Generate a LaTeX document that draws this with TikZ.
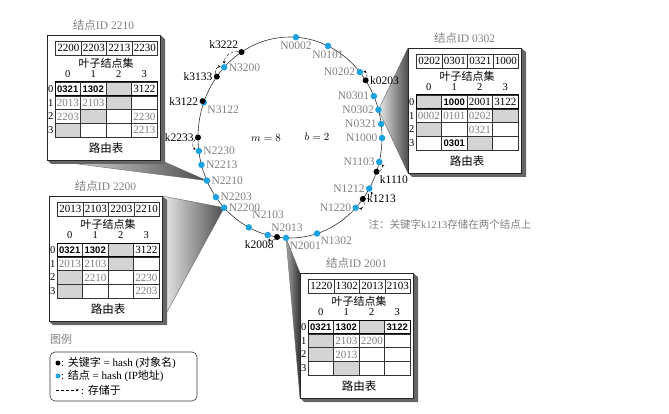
\documentclass[tikz,border=0pt]{standalone}
\usepackage{fontspec}
\setmainfont{Liberation Serif}
\newfontfamily\cjk{Noto Sans CJK SC}
\newfontfamily\numbold{Liberation Sans}
\usetikzlibrary{arrows.meta,backgrounds}

\definecolor{ringblue}{RGB}{28,163,222}
\definecolor{softgray}{gray}{0.5}
\definecolor{cellfill}{gray}{0.83}

\newcommand{\zh}[1]{{\cjk #1}}

\tikzset{
  keydot/.style={circle,fill=black,inner sep=0pt,minimum size=6pt},
  nodedot/.style={circle,fill=ringblue,inner sep=0pt,minimum size=6.5pt},
  nlbl/.style={text=softgray,font=\fontsize{11.5}{12}\selectfont,inner sep=1pt},
  klbl/.style={text=black,font=\fontsize{11.5}{12}\selectfont,inner sep=1pt},
  stored/.style={densely dashed,-{Stealth[length=3pt,width=2.5pt]},line width=0.4pt},
  tframe/.style={draw=black!85,fill=white,line width=0.7pt},
  tshadow/.style={fill=black!60},
  tcell/.style={draw=black!80,line width=0.5pt,minimum width=25.5pt,minimum height=13.75pt,
    inner sep=0pt,font=\fontsize{11}{11}\selectfont},
  tcb/.style={tcell,font=\numbold\bfseries\fontsize{9.5}{10}\selectfont},
  tcn/.style={tcell},
  tcg/.style={tcell,text=black!50},
  tcx/.style={tcell,fill=cellfill},
  tce/.style={tcell},
  wedge/.style={draw=black!60,line width=0.4pt,left color=black!8,right color=black!70},
}

\newcommand{\rtable}[4]{%
  \begin{scope}[shift={#1}]
    \fill[tshadow] (113,0) -- (118,4) -- (118,129) -- (4,129) -- (0,125) -- (113,125) -- cycle;
    \draw[tframe] (0,0) rectangle (113,125);
    \coordinate (t#2-nw) at (0,0);
    \coordinate (t#2-ne) at (113,0);
    \coordinate (t#2-sw) at (0,125);
    \coordinate (t#2-se) at (113,125);
    \node[text=softgray,font=\fontsize{11.5}{12}\selectfont] (t#2-title) at (56.5,-10) {\zh{结点}ID #2};
    \foreach \val [count=\li from 0] in {#3}
      \node[tcell,minimum height=14pt] (t#2-l\li) at ({21.25+25.5*\li},13) {\val};
    \node[font=\fontsize{11}{11}\selectfont] (t#2-leaf) at (59,28.5) {\zh{叶子结点集}};
    \foreach \ci in {0,...,3}
      \node[font=\fontsize{10.5}{10}\selectfont] (t#2-h\ci) at ({20.75+25.5*\ci},39) {\ci};
    \foreach \row [count=\ri from 0] in {#4} {
      \node[font=\fontsize{10.5}{10}\selectfont,inner sep=0pt] (t#2-r\ri) at (3.8,{53.9+13.75*\ri}) {\ri};
      \foreach \kind/\val [count=\ci from 0] in \row
        \node[tc\kind] (t#2-c\ri\ci) at ({20.75+25.5*\ci},{53.9+13.75*\ri}) {\val};
    }
    \draw[line width=1pt] (8,47) rectangle (110,60.75);
    \node[font=\fontsize{11.5}{12}\selectfont] (t#2-route) at (59,113) {\zh{路由表}};
  \end{scope}}

\begin{document}
\begin{tikzpicture}[x=1pt,y=-1pt]
  \useasboundingbox (0,0) rectangle (669,414);

  \draw[black!80,line width=0.6pt] (290,137.5) ellipse [x radius=92pt,y radius=100.5pt];

  \foreach \nid/\ang/\pos in {0002/-86.3/below, 0101/-65.6/below, 0202/-40.6/left,
      0301/-24.3/left, 0302/-16/left, 0321/-7.7/left, 1000/0.3/left, 1103/14.1/left,
      1212/30.5/left, 1220/44.4/left, 1302/72.9/below right, 2001/92.5/below right,
      2013/104/above right, 2200/135.7/right, 2203/143.6/right,
      2210/154.6/right, 2213/164.2/right, 2230/172.3/right, 3122/-159.5/below right,
      3200/-135.7/right}
    \node[nodedot,label={[nlbl]\pos:N\nid}] (n\nid) at ({290+92*cos(\ang)},{137.5+100.5*sin(\ang)}) {};
  \node[nodedot,label={[nlbl,yshift=5pt]above right:N2103}] (n2103) at ({290+92*cos(116.6)},{137.5+100.5*sin(116.6)}) {};

  \foreach \kid/\ang/\pos in {0203/-34.7/right, 1110/19.9/below right, 1213/37.7/right,
      2008/98.1/below left, 2233/180/left, 3133/-142.7/left, 3222/-121.8/above left}
    \node[keydot,label={[klbl]\pos:k\kid}] (k\kid) at ({290+92*cos(\ang)},{137.5+100.5*sin(\ang)}) {};
  \node[keydot,label={[klbl]left:k3122}] (k3122) at ({288.8+92*cos(-159.5)},{136.3+100.5*sin(-159.5)}) {};

  \draw[stored] (k3222) to[bend right=50] (n3200);
  \draw[stored] (k3133) to[bend left=60] (n3200);
  \draw[stored] (k2233) to[bend right=60] (n2230);
  \draw[stored] (k2008) to[bend left=60] (n2013);
  \draw[stored] (k1213) to[bend left=60] (n1220);
  \draw[stored] (k1213) to[bend right=60] (n1212);
  \draw[stored] (k1110) to[bend right=60] (n1103);
  \draw[stored] (k0203) to[bend right=60] (n0202);

  \node[font=\fontsize{10.5}{11}\selectfont] (mval) at (266,138) {$m = 8$};
  \node[font=\fontsize{10.5}{11}\selectfont] (bval) at (317,137) {$b = 2$};

  \rtable{(47,35)}{2210}{2200,2203,2213,2230}{{b/0321,b/1302,x/,n/3122},
    {g/2013,g/2103,x/,e/},{g/2203,x/,e/,g/2230},{x/,e/,e/,g/2213}}
  \rtable{(49,196)}{2200}{2013,2103,2203,2210}{{b/0321,b/1302,x/,n/3122},
    {g/2013,g/2103,x/,e/},{x/,g/2210,e/,g/2230},{x/,e/,e/,g/2203}}
  \rtable{(408,48)}{0302}{0202,0301,0321,1000}{{x/,b/1000,n/2001,n/3122},
    {g/0002,g/0101,g/0202,x/},{x/,e/,g/0321,e/},{e/,b/0301,x/,e/}}
  \rtable{(300,273)}{2001}{1220,1302,2013,2103}{{b/0321,b/1302,x/,b/3122},
    {x/,g/2103,g/2200,e/},{x/,g/2013,e/,e/},{e/,x/,e/,e/}}

  \begin{scope}[on background layer]
    \path[wedge] (t2210-sw) -- (t2210-se) -- (n2210.center) -- cycle;
    \path[wedge] (t2200-ne) -- (n2200.center) -- (t2200-se) -- cycle;
    \path[wedge] (n0302.center) -- (t0302-nw) -- (t0302-sw) -- cycle;
    \path[wedge,left color=black!35,right color=black!80] (n2001.center) -- (t2001-nw) -- (t2001-sw) -- cycle;
  \end{scope}

  \node[anchor=west,text=softgray,font=\fontsize{10.5}{11}\selectfont] (note) at (365,224)
    {\zh{注：关键字}k1213\zh{存储在两个结点上}};

  \node[anchor=west,text=softgray,font=\fontsize{11}{11}\selectfont,inner sep=0pt] (legtitle) at (50,339) {\zh{图例}};
  \draw[rounded corners=5pt,line width=0.6pt,black!80] (50,352) rectangle (197,401);
  \node[keydot,minimum size=5pt] (legk) at (58,363) {};
  \node[anchor=west,inner sep=1pt,font=\fontsize{11}{12}\selectfont] (legkt) at (60,363) {: \zh{关键字} = hash (\zh{对象名})};
  \node[nodedot,minimum size=5pt] (legn) at (58,376) {};
  \node[anchor=west,inner sep=1pt,font=\fontsize{11}{12}\selectfont] (legnt) at (60,376) {: \zh{结点} = hash (IP\zh{地址})};
  \coordinate (lega) at (56,390);
  \coordinate (legb) at (79,390);
  \draw[stored] (lega) -- (legb);
  \node[anchor=west,inner sep=1pt,font=\fontsize{11}{12}\selectfont] (legat) at (80,390) {: \zh{存储于}};
\end{tikzpicture}
\end{document}
